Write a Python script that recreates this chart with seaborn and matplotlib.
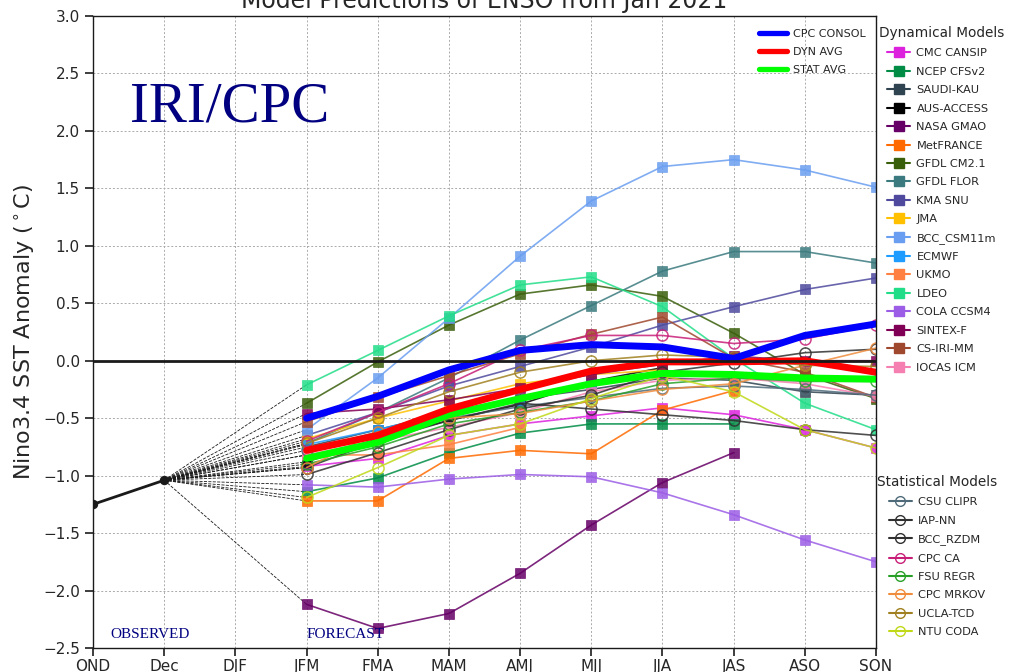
import numpy as np
import pandas as pd
import matplotlib
matplotlib.use('Agg')
import matplotlib.pyplot as plt
from matplotlib.lines import Line2D
import seaborn as sns

nan = np.nan

# x axis seasons
seasons = ['OND', 'Dec', 'DJF', 'JFM', 'FMA', 'MAM', 'AMJ', 'MJJ', 'JJA', 'JAS', 'ASO', 'SON']
observed = [-1.25, -1.04]   # OND, Dec

# dynamical models (JFM .. SON)
cmc_cansip = [-0.92, -0.85, -0.65, -0.55, -0.48, -0.41, -0.47, -0.60, -0.76]
ncep_cfsv2 = [-1.14, -1.02, -0.80, -0.63, -0.55, -0.55, -0.55, nan, nan]
saudi_kau = [-0.75, -0.60, -0.45, -0.33, -0.25, -0.15, -0.17, -0.27, -0.30]
aus_access = [-0.88, -0.68, -0.52, -0.38, -0.18, -0.06, nan, nan, nan]
nasa_gmao = [-2.12, -2.33, -2.20, -1.85, -1.43, -1.06, -0.80, nan, nan]
metfrance = [-1.22, -1.22, -0.85, -0.78, -0.81, -0.43, -0.26, nan, nan]
gfdl_cm21 = [-0.37, -0.01, 0.31, 0.58, 0.66, 0.56, 0.24, -0.12, -0.33]
gfdl_flor = [-0.72, -0.45, -0.15, 0.18, 0.48, 0.78, 0.95, 0.95, 0.85]
kma_snu = [-0.65, -0.45, -0.22, -0.05, 0.12, 0.31, 0.47, 0.62, 0.72]
jma = [-0.68, -0.50, -0.35, -0.20, -0.12, -0.08, nan, nan, nan]
bcc_csm11m = [-0.60, -0.15, 0.37, 0.91, 1.39, 1.69, 1.75, 1.66, 1.51]
ecmwf = [-0.73, -0.60, -0.45, -0.35, -0.19, nan, nan, nan, nan]
ukmo = [-0.82, -0.82, -0.73, -0.58, nan, nan, nan, nan, nan]
ldeo = [-0.21, 0.09, 0.39, 0.66, 0.73, 0.47, 0.02, -0.37, -0.60]
cola_ccsm4 = [-1.08, -1.10, -1.03, -0.99, -1.01, -1.15, -1.34, -1.56, -1.75]
sintex_f = [-0.46, -0.42, -0.34, -0.24, -0.12, -0.03, 0.04, 0.00, 0.00]
cs_iri_mm = [-0.53, -0.32, -0.13, 0.06, 0.23, 0.38, 0.02, -0.10, -0.32]
iocas_icm = [-0.82, -0.70, -0.58, -0.45, -0.27, -0.17, -0.15, -0.20, -0.31]

dyn_names = ['CMC CANSIP', 'NCEP CFSv2', 'SAUDI-KAU', 'AUS-ACCESS', 'NASA GMAO', 'MetFRANCE',
             'GFDL CM2.1', 'GFDL FLOR', 'KMA SNU', 'JMA', 'BCC_CSM11m', 'ECMWF', 'UKMO',
             'LDEO', 'COLA CCSM4', 'SINTEX-F', 'CS-IRI-MM', 'IOCAS ICM']
dyn_values = [cmc_cansip, ncep_cfsv2, saudi_kau, aus_access, nasa_gmao, metfrance,
              gfdl_cm21, gfdl_flor, kma_snu, jma, bcc_csm11m, ecmwf, ukmo,
              ldeo, cola_ccsm4, sintex_f, cs_iri_mm, iocas_icm]
dyn_colors = ['#dd22dd', '#008c45', '#2f4350', '#000000', '#660066', '#ff6a00',
              '#3a5f0b', '#3b7a7e', '#4f4a9e', '#ffc000', '#6a9ef0', '#1e9cff', '#ff8040',
              '#22dd88', '#9b5de5', '#800055', '#a0482e', '#f57fb0']

# statistical models (JFM .. SON)
csu_clipr = [-0.78, -0.62, -0.50, -0.40, -0.32, -0.24, -0.22, -0.25, -0.30]
iap_nn = [-0.93, -0.70, -0.52, -0.37, -0.42, -0.47, -0.52, -0.60, -0.65]
bcc_rzdm = [-0.99, -0.80, -0.60, -0.42, -0.30, -0.10, -0.02, 0.07, 0.10]
cpc_ca = [-0.70, -0.45, -0.20, 0.09, 0.22, 0.22, 0.15, 0.19, 0.31]
fsu_regr = [-0.90, -0.75, -0.55, -0.45, -0.35, -0.20, -0.15, -0.18, -0.18]
cpc_mrkov = [-0.93, -0.62, -0.50, -0.46, -0.35, -0.25, -0.20, -0.04, 0.11]
ucla_tcd = [-0.72, -0.50, -0.27, -0.10, 0.00, 0.05, 0.03, -0.04, -0.05]
ntu_coda = [-1.19, -0.93, -0.65, -0.55, -0.33, -0.13, -0.27, -0.60, -0.76]

stat_names = ['CSU CLIPR', 'IAP-NN', 'BCC_RZDM', 'CPC CA', 'FSU REGR', 'CPC MRKOV', 'UCLA-TCD', 'NTU CODA']
stat_values = [csu_clipr, iap_nn, bcc_rzdm, cpc_ca, fsu_regr, cpc_mrkov, ucla_tcd, ntu_coda]
stat_colors = ['#4f6b7a', '#303030', '#303030', '#c81e78', '#28a028', '#f08c3c', '#a08020', '#c0d818']

# averages
cpc_consol = [-0.50, -0.31, -0.08, 0.09, 0.14, 0.12, 0.02, 0.22, 0.32]
dyn_avg = [-0.78, -0.65, -0.42, -0.25, -0.09, -0.01, -0.01, 0.00, -0.10]
stat_avg = [-0.85, -0.71, -0.47, -0.33, -0.20, -0.11, -0.12, -0.15, -0.16]

sns.set_theme(style='ticks')
plt.rcParams['font.family'] = ['DejaVu Sans']

fig = plt.figure(figsize=(10.09, 6.72), dpi=100)
ax = fig.add_axes([93 / 1009, 24 / 672, 783 / 1009, 632 / 672])

x_pos = np.arange(len(seasons))
obs_x = x_pos[:len(observed)]
fc_x = x_pos[3:]

# dashed lines from last observation to first forecast
for vals in dyn_values + stat_values:
    ax.plot([obs_x[-1], fc_x[0]], [observed[-1], vals[0]], color='k', ls='--', lw=0.6)

for name, vals, c in zip(dyn_names, dyn_values, dyn_colors):
    d = pd.DataFrame({'x': fc_x, 'y': vals}).dropna()
    sns.lineplot(data=d, x='x', y='y', ax=ax, color=c, lw=1.2, marker='s', markersize=7.5,
                 markeredgecolor=c, markeredgewidth=0.5, legend=False, alpha=0.85)

for name, vals, c in zip(stat_names, stat_values, stat_colors):
    d = pd.DataFrame({'x': fc_x, 'y': vals}).dropna()
    sns.lineplot(data=d, x='x', y='y', ax=ax, color=c, lw=1.2, marker='o', markersize=8,
                 markerfacecolor='none', markeredgecolor=c, markeredgewidth=1.1,
                 legend=False, alpha=0.85)

avg_names = ['CPC CONSOL', 'DYN AVG', 'STAT AVG']
avg_values = [cpc_consol, dyn_avg, stat_avg]
avg_colors = ['#0000ff', '#ff0000', '#00ff00']
for vals, c in list(zip(avg_values, avg_colors))[::-1]:
    d = pd.DataFrame({'x': fc_x, 'y': vals})
    sns.lineplot(data=d, x='x', y='y', ax=ax, color=c, lw=5, legend=False)

ax.axhline(0, color='k', lw=2)

d = pd.DataFrame({'x': obs_x, 'y': observed})
sns.lineplot(data=d, x='x', y='y', ax=ax, color='k', lw=2, marker='o', markersize=6,
             markeredgecolor='k', legend=False)

ax.set_xlim(0, len(seasons) - 1)
ax.set_ylim(-2.5, 3.0)
ax.set_xticks(x_pos)
ax.set_xticklabels(seasons, fontsize=11)
ax.set_yticks(np.arange(-2.5, 3.01, 0.5))
ax.set_yticklabels([f'{v:.1f}'.replace('-', '\u2212') for v in np.arange(-2.5, 3.01, 0.5)], fontsize=11)
ax.tick_params(axis='x', pad=2)
ax.grid(True, ls=(0, (2, 2)), color='#aaaaaa', lw=0.7)
ax.set_xlabel('')
ax.set_ylabel('Nino3.4 SST Anomaly ($^\\circ$C)', fontsize=16)
ax.set_title('Model Predictions of ENSO from Jan 2021', fontsize=17)
for s in ax.spines.values():
    s.set_color('k')
    s.set_linewidth(1)

ax.text(0.52, 2.08, 'IRI/CPC', fontsize=41, color='#000080', family='Liberation Serif')
ax.text(0.24, -2.41, 'OBSERVED', fontsize=11, color='#000080', family='Liberation Serif')
ax.text(3.0, -2.41, 'FORECAST', fontsize=11, color='#000080', family='Liberation Serif')

# legends
avg_handles = [Line2D([], [], color=c, lw=3.8) for c in avg_colors]
leg0 = ax.legend(avg_handles, avg_names, loc='upper right', bbox_to_anchor=(1.0, 0.995),
                 frameon=False, fontsize=8, handlelength=2.5, handletextpad=0.6, labelspacing=0.7)

dyn_handles = [Line2D([], [], color=c, lw=1.5, marker='s', markersize=7, markeredgecolor=c)
               for c in dyn_colors]
leg1 = fig.legend(dyn_handles, dyn_names, loc='upper left', bbox_to_anchor=(879 / 1009, 1 - 26 / 672),
                  frameon=False, fontsize=8.2, title='Dynamical Models', title_fontsize=9.8,
                  handlelength=2.0, handletextpad=0.55, labelspacing=0.74, borderpad=0,
                  borderaxespad=0)

stat_handles = [Line2D([], [], color=c, lw=1.5, marker='o', markersize=7, markerfacecolor='none',
                       markeredgecolor=c) for c in stat_colors]
leg2 = fig.legend(stat_handles, stat_names, loc='upper left', bbox_to_anchor=(877 / 1009, 1 - 475 / 672),
                  frameon=False, fontsize=8.2, title='Statistical Models', title_fontsize=9.8,
                  handlelength=2.0, handletextpad=0.55, labelspacing=0.74, borderpad=0,
                  borderaxespad=0)

fig.savefig('out.png', dpi=100)
